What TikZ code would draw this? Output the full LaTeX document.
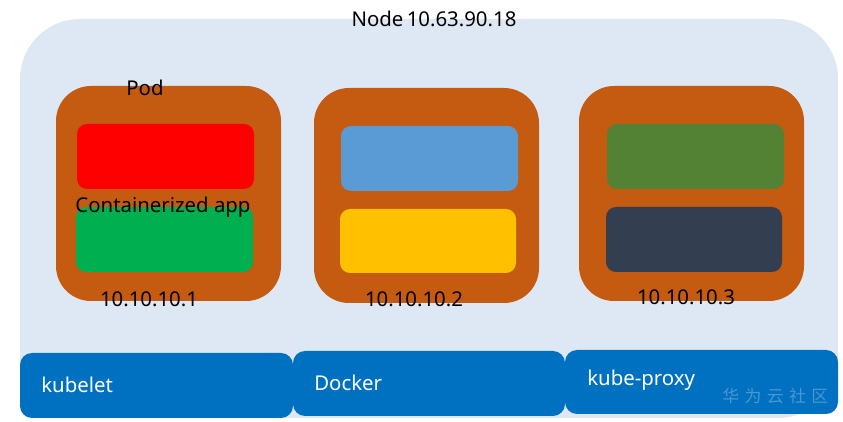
\documentclass[tikz,border=0pt]{standalone}
\usepackage{fontspec}
\setmainfont{Noto Sans}
\newfontfamily\cjk[LetterSpace=32]{Noto Sans CJK SC}
\definecolor{nodebg}{HTML}{DEE8F5}
\definecolor{podbg}{HTML}{C55A11}
\definecolor{appred}{HTML}{FF0000}
\definecolor{appgreen}{HTML}{00B050}
\definecolor{appblue}{HTML}{5B9BD5}
\definecolor{appyellow}{HTML}{FFC000}
\definecolor{appolive}{HTML}{548235}
\definecolor{appslate}{HTML}{333F50}
\definecolor{agentblue}{HTML}{0070C0}
\definecolor{markblue}{HTML}{4A97D2}
\tikzset{
    label text/.style={font=\fontsize{11.6}{13}\selectfont,inner sep=0pt,text=black},
    agent text/.style={label text,anchor=west,text=white},
    pod/.style={fill=podbg,rounded corners=0.7cm},
    app/.style={rounded corners=0.2cm},
    agent/.style={fill=agentblue,rounded corners=0.24cm}
}
\begin{document}
\begin{tikzpicture}[x=0.02cm,y=-0.02cm]
    \useasboundingbox (0,0) rectangle (843,422);
    \fill[nodebg,rounded corners=1.2cm] (20,19) rectangle (838,418);
    % pods
    \fill[pod] (56,86) rectangle (281,301);
    \fill[pod] (314,88) rectangle (539,303);
    \fill[pod] (579,86) rectangle (804,301);
    % containers
    \fill[app,appred] (77,124) rectangle (254,189);
    \fill[app,appgreen] (76,207) rectangle (253,272);
    \fill[app,appblue] (341,126) rectangle (518,191);
    \fill[app,appyellow] (340,209) rectangle (516,273);
    \fill[app,appolive] (607,124) rectangle (784,189);
    \fill[app,appslate] (606,207) rectangle (782,272);
    % node agents
    \fill[agent] (20,353) rectangle (293,418);
    \fill[agent] (293,351) rectangle (565,416);
    \fill[agent] (565,350) rectangle (838,414);
    \node[label text] (nodename) at (434,19) {Node\,10.63.90.18};
    \node[label text] (podname) at (145,88) {Pod};
    \node[label text] (appname) at (163,207) {Containerized app};
    \node[label text] (podipa) at (149,299) {10.10.10.1};
    \node[label text] (podipb) at (414,299) {10.10.10.2};
    \node[label text] (podipc) at (686,297) {10.10.10.3};
    \node[agent text] (kubelet) at (41,385) {kubelet};
    \node[agent text] (docker) at (314,383) {Docker};
    \node[agent text] (kubeproxy) at (587,380) {kube-proxy};
    \node[inner sep=0pt,anchor=west,text=markblue,font=\cjk\fontsize{9.6}{11}\selectfont] (watermark) at (722,396) {华为云社区};
\end{tikzpicture}
\end{document}
